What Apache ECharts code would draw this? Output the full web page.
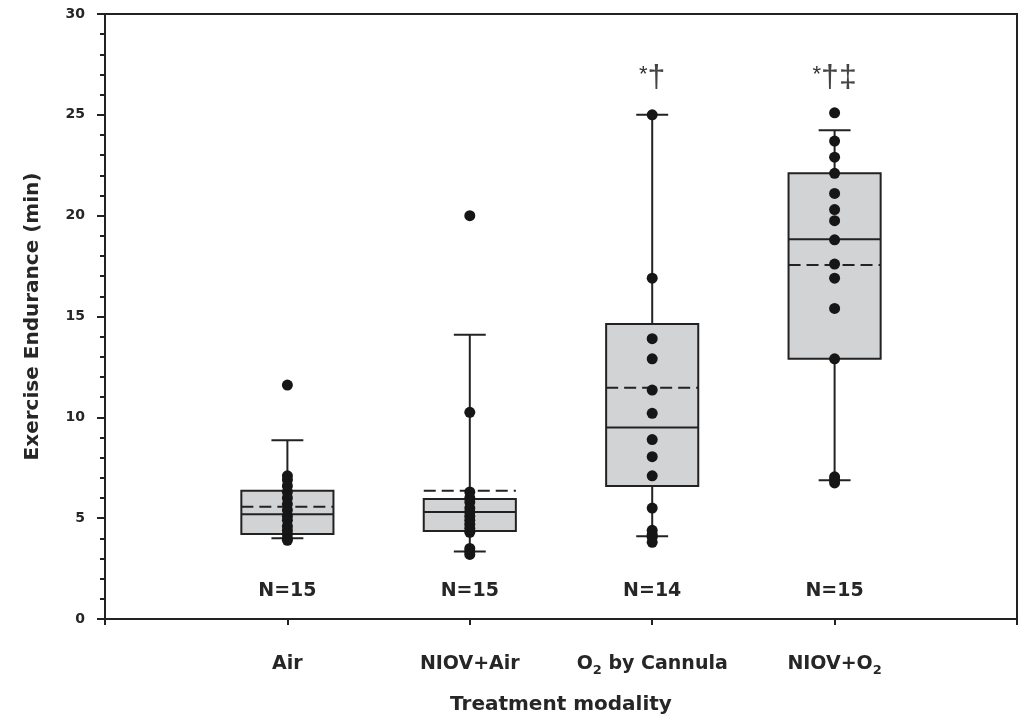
<!DOCTYPE html>
<html>
<head>
<meta charset="utf-8">
<script src="https://cdn.jsdelivr.net/npm/echarts@6/dist/echarts.min.js"></script>
<style>
html,body{margin:0;padding:0;background:#fff;}
#chart{width:1019px;height:714px;}
</style>
</head>
<body>
<div id="chart"></div>
<script>
// ---- data ----
const categories = ['Air', 'NIOV+Air', 'O\u2082 by Cannula', 'NIOV+O\u2082'];
const whiskerLow  = [4.0, 3.35, 4.1, 6.88];
const q1          = [4.22, 4.36, 6.6, 12.9];
const median      = [5.2, 5.3, 9.5, 18.83];
const q3          = [6.36, 5.95, 14.63, 22.1];
const whiskerHigh = [8.86, 14.1, 25.0, 24.23];
const meanValues  = [5.57, 6.36, 11.47, 17.55];
const pointsAir      = [11.6, 7.1, 6.9, 6.6, 6.3, 6.0, 5.7, 5.4, 5.1, 4.9, 4.6, 4.4, 4.2, 4.0, 3.9];
const pointsNiovAir  = [20.0, 10.25, 6.3, 6.0, 5.8, 5.5, 5.3, 5.1, 4.9, 4.7, 4.5, 4.3, 3.5, 3.35, 3.2];
const pointsO2       = [25.0, 16.9, 13.9, 12.9, 11.35, 10.2, 8.9, 8.05, 7.1, 5.5, 4.4, 4.2, 4.05, 3.8];
const pointsNiovO2   = [25.1, 23.7, 22.9, 22.1, 21.1, 20.3, 19.75, 18.8, 17.6, 16.9, 15.4, 12.9, 7.05, 6.9, 6.75];
const nLabels = ['N=15', 'N=15', 'N=14', 'N=15'];
const significance = ['', '', '*\u2020', '*\u2020\u2021'];
const yTicks = [0, 5, 10, 15, 20, 25, 30];

const allPoints = [pointsAir, pointsNiovAir, pointsO2, pointsNiovO2];

// ---- styling constants ----
const FONT = 'DejaVu Sans';
const INK = '#222';
const TEXT = '#262626';
const BOX_W = 0.505;
const CAP_W = 0.175;
const N_LABEL_Y = 1.4;
const SIG_Y = 26.8;

const chart = echarts.init(document.getElementById('chart'), null, {renderer: 'canvas'});

function richCategory(label) {
  const parts = label.split('\u2082');
  let s = '';
  parts.forEach((p, i) => {
    if (p) s += '{t|' + p + '}';
    if (i < parts.length - 1) s += '{s|2}';
  });
  return s;
}

function richSignificance(label) {
  if (!label) return '';
  const star = label.charAt(0) === '*';
  return (star ? '{st|*}' : '') + '{dg|' + (star ? label.slice(1) : label) + '}';
}

const boxData = categories.map((c, i) => [i + 1, whiskerLow[i], q1[i], median[i], q3[i], whiskerHigh[i], meanValues[i]]);

function renderBox(params, api) {
  const x = api.value(0);
  const lo = api.coord([x, api.value(1)]);
  const pq1 = api.coord([x, api.value(2)]);
  const pm = api.coord([x, api.value(3)]);
  const pq3 = api.coord([x, api.value(4)]);
  const hi = api.coord([x, api.value(5)]);
  const pmean = api.coord([x, api.value(6)]);
  const bw = api.size([BOX_W, 0])[0];
  const cw = api.size([CAP_W, 0])[0];
  const cx = pm[0];
  const line = {stroke: INK, lineWidth: 2};
  return {
    type: 'group',
    children: [
      {type: 'line', shape: {x1: cx, y1: hi[1], x2: cx, y2: pq3[1]}, style: line},
      {type: 'line', shape: {x1: cx, y1: pq1[1], x2: cx, y2: lo[1]}, style: line},
      {type: 'line', shape: {x1: cx - cw / 2, y1: hi[1], x2: cx + cw / 2, y2: hi[1]}, style: line},
      {type: 'line', shape: {x1: cx - cw / 2, y1: lo[1], x2: cx + cw / 2, y2: lo[1]}, style: line},
      {type: 'rect', shape: {x: cx - bw / 2, y: pq3[1], width: bw, height: pq1[1] - pq3[1]},
        style: {fill: '#d2d3d5', stroke: INK, lineWidth: 2}},
      {type: 'line', shape: {x1: cx - bw / 2, y1: pm[1], x2: cx + bw / 2, y2: pm[1]}, style: line},
      {type: 'line', shape: {x1: cx - bw / 2, y1: pmean[1], x2: cx + bw / 2, y2: pmean[1]},
        style: {stroke: INK, lineWidth: 2, lineDash: [12, 6]}}
    ]
  };
}

const scatterData = [];
allPoints.forEach((arr, i) => arr.forEach(v => scatterData.push([i + 1, v])));

const option = {
  animation: false,
  backgroundColor: '#fff',
  grid: {left: 105, right: 2, top: 14, bottom: 95, containLabel: false, outerBoundsMode: 'none',
    show: true, borderColor: INK, borderWidth: 2, backgroundColor: 'transparent'},
  xAxis: {
    type: 'value', min: 0, max: 5, interval: 1,
    name: 'Treatment modality', nameLocation: 'middle', nameGap: 76,
    nameTextStyle: {fontFamily: FONT, fontWeight: 'bold', fontSize: 20, color: TEXT},
    axisLine: {show: true, lineStyle: {color: INK, width: 2}},
    axisTick: {show: true, length: 6, lineStyle: {color: INK, width: 2}},
    splitLine: {show: false},
    axisLabel: {
      margin: 32,
      formatter: v => (v >= 1 && v <= 4) ? richCategory(categories[v - 1]) : '',
      rich: {
        t: {fontFamily: FONT, fontWeight: 'bold', fontSize: 19, color: TEXT, lineHeight: 26, verticalAlign: 'middle'},
        s: {fontFamily: FONT, fontWeight: 'bold', fontSize: 13, color: TEXT, lineHeight: 13, verticalAlign: 'bottom'}
      }
    }
  },
  yAxis: {
    type: 'value', min: 0, max: 30, interval: 5,
    name: 'Exercise Endurance (min)', nameLocation: 'middle', nameGap: 62,
    nameTextStyle: {fontFamily: FONT, fontWeight: 'bold', fontSize: 20, color: TEXT},
    axisLine: {show: true, lineStyle: {color: INK, width: 2}},
    axisTick: {show: true, length: 8, lineStyle: {color: INK, width: 2}},
    minorTick: {show: true, splitNumber: 5, length: 5, lineStyle: {color: INK, width: 2}},
    splitLine: {show: false},
    axisLabel: {margin: 20, fontFamily: FONT, fontWeight: 'bold', fontSize: 14, color: TEXT,
      formatter: v => yTicks.includes(v) ? String(v) : ''}
  },
  series: [
    {
      type: 'custom', renderItem: renderBox, data: boxData,
      encode: {x: 0, y: [1, 2, 3, 4, 5, 6]}, z: 2
    },
    {
      type: 'scatter', data: scatterData, symbol: 'circle', symbolSize: 11,
      itemStyle: {color: '#161616', opacity: 1}, z: 3
    },
    {
      type: 'scatter', symbolSize: 0, z: 4,
      itemStyle: {opacity: 1},
      data: nLabels.map((t, i) => ({value: [i + 1, N_LABEL_Y], name: t})),
      label: {show: true, position: 'inside', formatter: p => p.name,
        fontFamily: FONT, fontWeight: 'bold', fontSize: 19, color: TEXT, opacity: 1}
    },
    {
      type: 'scatter', symbolSize: 0, z: 4,
      itemStyle: {opacity: 1},
      data: significance.map((t, i) => ({value: [i + 1, SIG_Y], name: t})),
      label: {show: true, position: 'inside', formatter: p => richSignificance(p.name),
        rich: {
          st: {fontFamily: 'Liberation Sans', fontSize: 22, color: '#333', verticalAlign: 'top', lineHeight: 30},
          dg: {fontFamily: 'Liberation Sans', fontSize: 32, color: '#444', verticalAlign: 'middle', lineHeight: 30}
        }}
    }
  ]
};
chart.setOption(option);
</script>
</body>
</html>
